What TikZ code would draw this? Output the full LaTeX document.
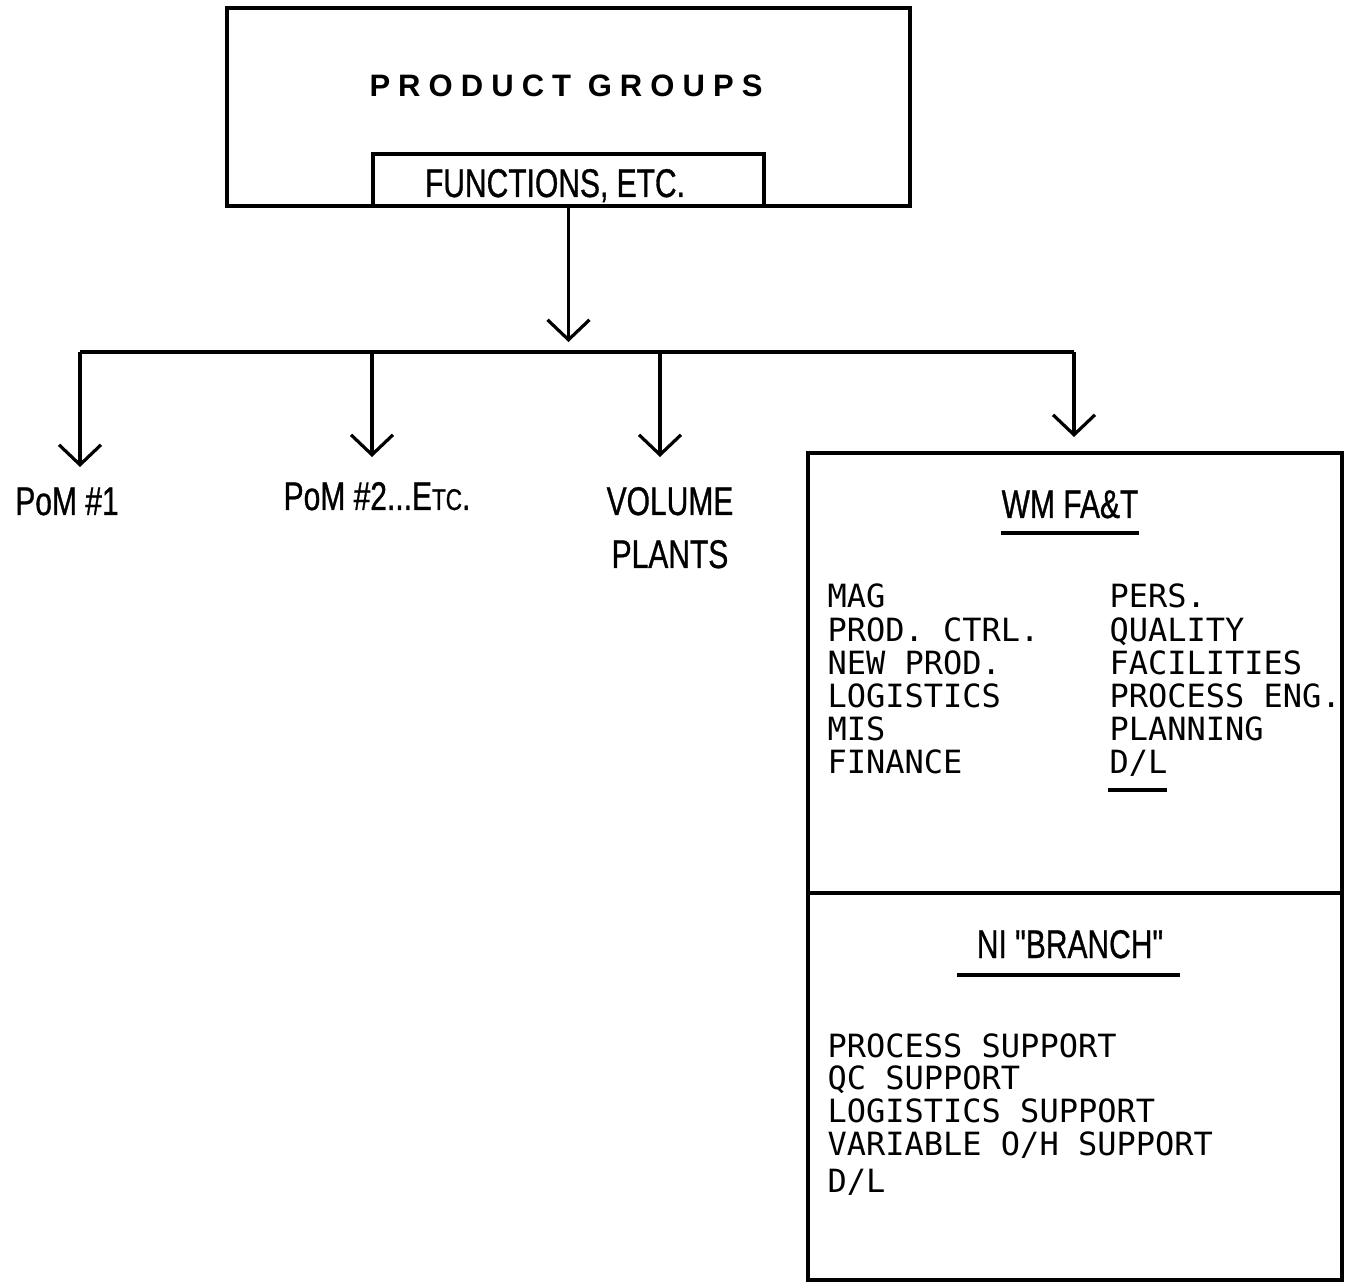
\documentclass[tikz,border=0pt]{standalone}
\usepackage{fontspec}
\usetikzlibrary{arrows.meta}
\newfontfamily\cnd[FakeStretch=0.75,FakeBold=0.8]{Liberation Sans}
\newfontfamily\boldsp[LetterSpace=26]{Liberation Sans}
\newfontfamily\mono{DejaVu Sans Mono}
\begin{document}
\begin{tikzpicture}[x=0.5pt,y=-0.5pt, line width=1.6pt,
  arr/.style={-{Straight Barb[length=10pt,width=21pt]}},
  hd/.style={font=\cnd\fontsize{20}{24}\selectfont, inner sep=0pt, anchor=base},
  lst/.style={font=\mono\fontsize{16}{19}\selectfont, anchor=base west, inner sep=0pt},
  box/.style={draw, inner sep=0pt}]
\useasboundingbox (0,0) rectangle (1346,1283);
% top box
\node[box, minimum width=341.5pt, minimum height=99pt] (pg) at (568.5,107) {};
\node[box, minimum width=195.5pt, minimum height=26pt] (fn) at (568.5,180) {};
\node[font=\boldsp\bfseries\fontsize{15.5}{18}\selectfont, anchor=base, inner sep=0pt] (pgt) at (566,97) {PRODUCT GROUPS};
\node[hd] (fnt) at (555,197) {FUNCTIONS, ETC.};
% arrows
\coordinate (t0) at (568.5,342);
\draw[arr] (pg.south) -- (t0);
\coordinate (b1) at (80,352);
\coordinate (b2) at (372,352);
\coordinate (b3) at (660,352);
\coordinate (b4) at (1074,352);
\coordinate (t1) at (80,467);
\coordinate (t2) at (372,457);
\coordinate (t3) at (660,457);
\coordinate (t4) at (1074,437);
\draw (b1) -- (b4);
\draw[arr] (b1) -- (t1);
\draw[arr] (b2) -- (t2);
\draw[arr] (b3) -- (t3);
\draw[arr] (b4) -- (t4);
% labels
\node[hd] (p1) at (67,515) {PoM \#1};
\node[hd] (p2) at (377,510) {PoM \#2...E{\fontsize{15}{18}\selectfont TC}.};
\node[hd] (v1) at (670,515) {VOLUME};
\node[hd] (v2) at (670,568) {PLANTS};
% right boxes
\node[box, minimum width=267pt, minimum height=220pt] (wm) at (1075,673) {};
\node[box, minimum width=267pt, minimum height=193.5pt] (ni) at (1075,1086.5) {};
\node[hd] (wmt) at (1070,518) {WM FA\&T};
\draw (1001,533) -- (1139,533);
\foreach \t [count=\i] in {MAG, PROD. CTRL., NEW PROD., LOGISTICS, MIS, FINANCE}
  \node[lst] (l\i) at (826,{608+33.2*(\i-1)}) {\t};
\foreach \t [count=\i] in {PERS., QUALITY, FACILITIES, PROCESS ENG., PLANNING, D/L}
  \node[lst] (r\i) at (1108,{608+33.2*(\i-1)}) {\t};
\draw (1108,790) -- (1167,790);
\node[hd] (nit) at (1070,958) {NI "BRANCH"};
\draw (957,975) -- (1180,975);
\node[lst] (n1) at (826,1057) {PROCESS SUPPORT};
\node[lst] (n2) at (826,1089) {QC SUPPORT};
\node[lst] (n3) at (826,1122) {LOGISTICS SUPPORT};
\node[lst] (n4) at (826,1155) {VARIABLE O/H SUPPORT};
\node[lst] (n5) at (826,1192) {D/L};
\end{tikzpicture}
\end{document}
